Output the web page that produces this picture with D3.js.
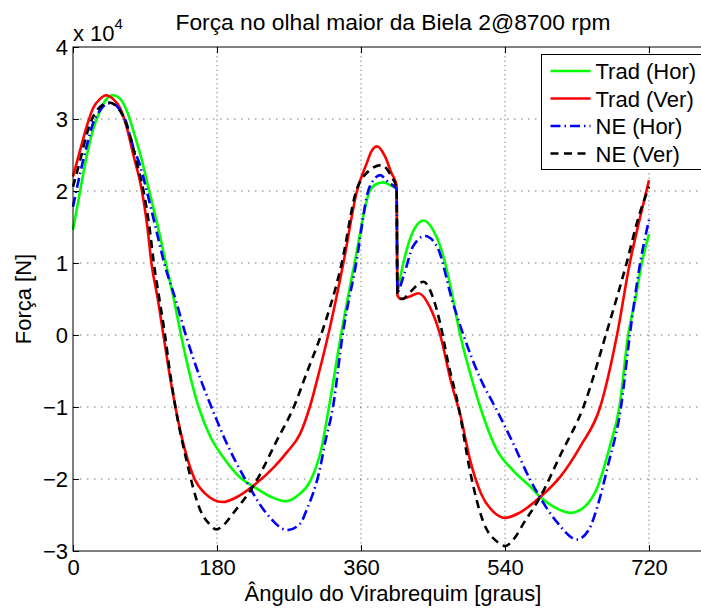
<!DOCTYPE html>
<html>
<head>
<meta charset="utf-8">
<script src="https://cdnjs.cloudflare.com/ajax/libs/d3/7.8.5/d3.min.js"></script>
<style>
  body { margin: 0; background: #fff; }
  svg { font-family: "Liberation Sans", Arial, Helvetica, sans-serif; }
  .axis text { font-size: 22px; fill: #000; }
  .axis path, .axis line { stroke: #000; }
</style>
</head>
<body>
<div id="chart"></div>
<script>
// angle [graus], force [x 10^4 N]
const tradHor = [[0,1.46],[9,2.01],[17,2.48],[25,2.85],[34,3.12],[42,3.28],[50,3.33],[59,3.28],[67,3.12],[75,2.85],[86,2.43],[95,2.01],[107,1.46],[116,1.0],[126,0.5],[135,0.0],[146,-0.55],[157,-1.0],[172,-1.42],[188,-1.7],[209,-1.98],[228,-2.12],[248,-2.25],[266,-2.31],[282,-2.22],[296,-2.04],[310,-1.6],[320,-1.0],[335,0.0],[352,1.0],[371,2.0],[380,2.1],[388,2.12],[398,2.07],[404.5,2.03],[405.5,0.6],[410,0.85],[417,1.18],[427,1.48],[438,1.59],[450,1.46],[463,1.09],[471,0.72],[484,0.0],[500,-0.67],[509,-1.0],[530,-1.6],[550,-1.88],[571,-2.1],[584,-2.25],[600,-2.38],[622,-2.47],[640,-2.38],[655,-2.13],[671,-1.55],[683,-1.0],[694,0.0],[703,0.5],[711,1.0],[720,1.4]];
const tradVer = [[0,2.2],[9,2.57],[17,2.89],[25,3.15],[34,3.28],[41,3.33],[50,3.28],[59,3.15],[67,2.89],[75,2.52],[86,2.01],[93,1.5],[98,1.0],[106,0.5],[113,0.0],[120,-0.5],[128,-1.0],[140,-1.6],[152,-2.0],[165,-2.2],[187,-2.32],[205,-2.25],[227,-2.08],[250,-1.85],[268,-1.62],[284,-1.37],[296,-1.0],[308,-0.5],[319,0.0],[338,1.0],[355,2.0],[367,2.38],[373,2.55],[380,2.62],[390,2.48],[398,2.25],[404.5,2.08],[405.5,0.55],[410,0.5],[420,0.53],[432,0.58],[446,0.39],[459,0.0],[473,-0.67],[485,-1.15],[496,-1.72],[510,-2.2],[525,-2.45],[540,-2.54],[558,-2.47],[584,-2.25],[609,-1.97],[634,-1.55],[659,-1.0],[680,0.0],[696,1.0],[709,1.64],[720,2.15]];
const neHor = [[0,1.78],[9,2.25],[17,2.62],[25,2.94],[34,3.12],[42,3.21],[48,3.22],[57,3.15],[67,2.94],[75,2.62],[84,2.35],[92,2.01],[104,1.46],[114,1.0],[128,0.5],[141,0.0],[159,-0.6],[173,-1.0],[192,-1.5],[215,-2.0],[242,-2.48],[268,-2.71],[284,-2.62],[292,-2.43],[309,-1.84],[315,-1.5],[325,-1.0],[337,0.0],[354,1.0],[369,2.0],[377,2.17],[384,2.22],[394,2.12],[404.5,2.03],[405.5,0.6],[413,0.81],[425,1.23],[440,1.375],[455,1.23],[475,0.44],[488,0.0],[509,-0.6],[530,-1.05],[550,-1.5],[571,-2.0],[584,-2.26],[605,-2.6],[630,-2.84],[645,-2.7],[655,-2.4],[669,-1.8],[685,-1.0],[696,0.0],[709,1.0],[720,1.6]];
const neVer = [[0,2.06],[9,2.43],[17,2.78],[25,3.03],[34,3.17],[45,3.23],[55,3.17],[63,3.03],[71,2.78],[80,2.38],[88,2.01],[96,1.46],[101,1.0],[108,0.5],[115,0.0],[121,-0.5],[128,-1.0],[141,-1.7],[159,-2.43],[170,-2.62],[179,-2.7],[190,-2.62],[200,-2.48],[228,-2.05],[255,-1.46],[276,-1.0],[293,-0.5],[310,0.0],[336,1.0],[354,2.0],[367,2.25],[386,2.36],[398,2.2],[404.5,2.04],[405.5,0.55],[412,0.5],[420,0.58],[438,0.74],[450,0.52],[459,0.16],[469,-0.39],[482,-1.0],[496,-1.875],[513,-2.6],[530,-2.87],[540,-2.93],[552,-2.82],[563,-2.62],[584,-2.25],[610,-1.65],[638,-1.0],[666,0.0],[692,1.0],[706,1.6],[720,2.06]];

const seriesNames = ["Trad (Hor)", "Trad (Ver)", "NE (Hor)", "NE (Ver)"];
const xTicks = [0, 180, 360, 540, 720];
const yTicks = [-3, -2, -1, 0, 1, 2, 3, 4];

const chartTitle = "Força no olhal maior da Biela 2@8700 rpm";
const xTitle = "Ângulo do Virabrequim [graus]";
const yTitle = "Força [N]";

const width = 701, height = 608;
const margin = { top: 47, right: -12, bottom: 57, left: 73 };
const plotW = width - margin.left - margin.right;   // runs past the window like the cropped figure
const plotH = height - margin.top - margin.bottom;

const svg = d3.select("#chart").append("svg")
    .attr("width", width)
    .attr("height", height);

const x = d3.scaleLinear().domain([0, 800]).range([0, plotW]);
const y = d3.scaleLinear().domain([-3, 4]).range([plotH, 0]);

const g = svg.append("g")
    .attr("transform", `translate(${margin.left},${margin.top})`);

// grid
g.append("g").selectAll("line.vgrid")
    .data(xTicks.filter(d => d > 0))
    .enter().append("line")
    .attr("x1", d => x(d)).attr("x2", d => x(d))
    .attr("y1", 0).attr("y2", plotH)
    .attr("stroke", "#8a8a8a")
    .attr("stroke-width", 1)
    .attr("stroke-dasharray", "1.5,3");

g.append("g").selectAll("line.hgrid")
    .data(yTicks.filter(d => d > -3 && d < 4))
    .enter().append("line")
    .attr("x1", 0).attr("x2", plotW)
    .attr("y1", d => y(d)).attr("y2", d => y(d))
    .attr("stroke", "#777")
    .attr("stroke-width", 1)
    .attr("stroke-dasharray", "1.5,5.5");

// lines
const line = d3.line()
    .x(d => x(d[0]))
    .y(d => y(d[1]))
    .curve(d3.curveMonotoneX);

const styles = [
    { data: tradHor, color: "#00ff00", dash: null, w: 2.6 },
    { data: tradVer, color: "#ff0000", dash: null, w: 2.6 },
    { data: neHor, color: "#0000ff", dash: "10,4,1.5,4", w: 2.6 },
    { data: neVer, color: "#000000", dash: "8,5.5", w: 2.6 }
];

styles.forEach(s => {
    g.append("path")
        .datum(s.data)
        .attr("fill", "none")
        .attr("stroke", s.color)
        .attr("stroke-width", s.w)
        .attr("stroke-dasharray", s.dash)
        .attr("d", line);
});

// axes (MATLAB style ticks pointing in)
let xAxis = d3.axisBottom(x).tickValues(xTicks).tickSize(-6).tickPadding(8.5).tickSizeOuter(0);
let yAxis = d3.axisLeft(y).tickValues(yTicks).tickSize(-6).tickPadding(5).tickSizeOuter(0)
    .tickFormat(d3.format("d"));

g.append("g")
    .attr("class", "axis x-axis")
    .attr("transform", `translate(0,${plotH})`)
    .call(xAxis);

g.append("g")
    .attr("class", "axis y-axis")
    .call(yAxis);

g.append("g")
    .attr("class", "axis")
    .call(d3.axisTop(x).tickValues(xTicks).tickSize(-6).tickFormat("").tickSizeOuter(0));

g.selectAll(".axis .domain").remove();

g.append("rect")
    .attr("width", plotW)
    .attr("height", plotH)
    .attr("fill", "none")
    .attr("stroke", "#000")
    .attr("stroke-width", 1);

// exponent label
const expo = svg.append("text")
    .attr("x", margin.left)
    .attr("y", 41)
    .style("font-size", "22px");
expo.append("tspan").text("x 10");
expo.append("tspan")
    .attr("dy", -12)
    .style("font-size", "15px")
    .text("4");

// titles
svg.append("text")
    .attr("x", margin.left + plotW / 2)
    .attr("y", 30)
    .attr("text-anchor", "middle")
    .style("font-size", "22.8px")
    .text(chartTitle);

svg.append("text")
    .attr("x", margin.left + plotW / 2)
    .attr("y", 600.5)
    .attr("text-anchor", "middle")
    .style("font-size", "22px")
    .text(xTitle);

svg.append("text")
    .attr("transform", `translate(31,${margin.top + plotH / 2}) rotate(-90)`)
    .attr("text-anchor", "middle")
    .style("font-size", "22px")
    .text(yTitle);

// legend
const legend = svg.append("g")
    .attr("transform", "translate(541.5,54.5)");

legend.append("rect")
    .attr("width", 200)
    .attr("height", 115)
    .attr("fill", "#fff")
    .attr("stroke", "#000")
    .attr("stroke-width", 1);

styles.forEach((s, i) => {
    let row = legend.append("g")
        .attr("transform", `translate(0,${16.5 + i * 27.5})`);
    row.append("line")
        .attr("x1", 9).attr("x2", 49)
        .attr("stroke", s.color)
        .attr("stroke-width", s.w)
        .attr("stroke-dasharray", s.dash);
    row.append("text")
        .attr("x", 54)
        .attr("y", 8)
        .style("font-size", "22px")
        .text(seriesNames[i]);
});
</script>
</body>
</html>
